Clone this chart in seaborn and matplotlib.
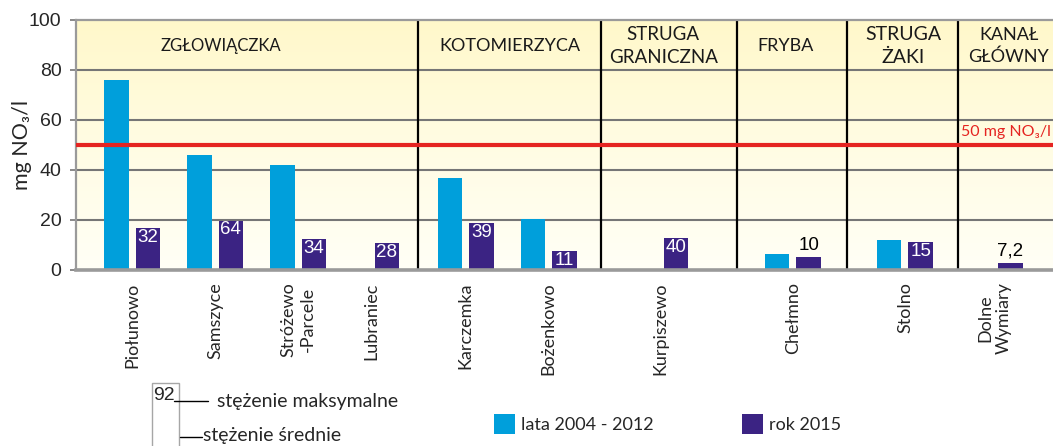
import numpy as np
import pandas as pd
import seaborn as sns
import matplotlib.pyplot as plt
from matplotlib import font_manager
from matplotlib.colors import LinearSegmentedColormap
from matplotlib.patches import Rectangle
from matplotlib.lines import Line2D

# -----------------------------
# Data (mg NO3/l)
# -----------------------------
stations = ["Piołunowo", "Samszyce", "Stróżewo\n-Parcele", "Lubraniec", "Karczemka",
            "Bożenkowo", "Kurpiszewo", "Chełmno", "Stolno", "Dolne\nWymiary"]
mean_2004_2012 = [76, 46, 42, np.nan, 37, 20.5, np.nan, 6.4, 12, np.nan]
mean_2015 = [16.8, 19.8, 12.4, 10.8, 18.8, 7.6, 12.8, 5.2, 11.2, 3.0]
max_2015 = [32, 64, 34, 28, 39, 11, 40, 10, 15, 7.2]
series = ["lata 2004 - 2012", "rok 2015"]
rivers = ["ZGŁOWIĄCZKA", "KOTOMIERZYCA", "STRUGA\nGRANICZNA", "FRYBA", "STRUGA\nŻAKI", "KANAŁ\nGŁÓWNY"]
limit = 50

# layout: station positions on the x axis, river labels and dividers
station_x = [0, 1, 2, 2.88, 4.02, 5.02, 6.36, 7.96, 9.31, 10.39]
river_x = [1.07, 4.55, 6.4, 7.87, 9.29, 10.56]
river_size = [12, 13, 13.5, 13, 14, 13]
divider_x = [3.45, 5.65, 7.29, 8.61, 9.95]

colors = ["#009FDB", "#3B2383"]


def has_font(name):
    try:
        font_manager.findfont(font_manager.FontProperties(family=name), fallback_to_default=False)
        return True
    except ValueError:
        return False


sns.set_style("white")
plt.rcParams['font.family'] = ['Lato', 'DejaVu Sans']
num_font = ['Liberation Sans', 'DejaVu Sans']
if has_font('Liberation Sans Narrow'):
    narrow, narrow_size = ['Liberation Sans Narrow', 'Liberation Sans'], 15
else:
    narrow, narrow_size = num_font, 13.5

W, H = 1053, 446
fig = plt.figure(figsize=(W / 100, H / 100), dpi=100)
ax = fig.add_axes([76 / W, 1 - 270 / H, 990 / W, 250 / H])

df = pd.DataFrame({
    "x": station_x * 2,
    "value": mean_2004_2012 + mean_2015,
    "series": [series[0]] * len(stations) + [series[1]] * len(stations),
}).dropna()

bar_width = 0.76 / np.diff(station_x).min()
sns.barplot(data=df, x="x", y="value", hue="series", hue_order=series, palette=colors,
            native_scale=True, width=bar_width, gap=0.22, saturation=1, errorbar=None,
            linewidth=0, ax=ax, zorder=2)

ax.set_xlim(-0.675, 11.25)
ax.set_ylim(0, 100)

# background gradient
grad = np.linspace(0, 1, 256).reshape(-1, 1)
cmap = LinearSegmentedColormap.from_list("bg", ["#FFFFF6", "#FFFCE3", "#FFF8CA"])
ax.imshow(grad, cmap=cmap, origin="lower", aspect="auto", extent=[-0.675, 11.25, 0, 100], zorder=0)

# grid, dividers, limit line
for y in [20, 40, 60, 80]:
    ax.axhline(y, color="#767676", lw=1.5, zorder=1)
for x in divider_x:
    ax.axvline(x, color="black", lw=1.6, zorder=1)
ax.axhline(limit, color="#E52421", lw=3, zorder=3)
ax.text(9.98, 55.2, "50 mg NO₃/l", color="#E52421", fontsize=11.5, va="center", ha="left", zorder=4)

# river names
for x, name, size in zip(river_x, rivers, river_size):
    ax.text(x, 89.6, name, ha="center", va="center", fontsize=size, linespacing=1.38, color="#1a1a1a")

# max values on 2015 bars
for bar, m in zip(ax.containers[1], max_2015):
    h = bar.get_height()
    cx = bar.get_x() + bar.get_width() / 2
    label = f"{m:g}".replace(".", ",")
    if h > 6:
        ax.text(cx, h - 0.3, label, ha="center", va="top", color="white",
                fontsize=narrow_size, family=narrow, zorder=4)
    else:
        ax.text(cx, h + 1.0, label, ha="center", va="bottom", color="black",
                fontsize=narrow_size, family=narrow, zorder=4)

# axes styling
ax.set_yticks([0, 20, 40, 60, 80, 100])
ax.set_yticklabels([0, 20, 40, 60, 80, 100], family=num_font, fontsize=14)
ax.tick_params(axis="y", length=4.5, width=1.2, color="#767676", pad=6, left=True)
ax.set_xticks(station_x)
ax.set_xticklabels(stations, rotation=90, fontsize=13, va="top", ha="center")
ax.tick_params(axis="x", length=0, pad=9)
ax.set_xlabel("")
ax.set_ylabel("mg NO₃/l", fontsize=15.5)
ax.yaxis.set_label_coords(-0.044, 0.5)
for side in ["left", "top"]:
    ax.spines[side].set_color("#9A9A9A")
    ax.spines[side].set_linewidth(1.6)
ax.spines["bottom"].set_color("#9A9A9A")
ax.spines["bottom"].set_linewidth(2.6)
ax.spines["right"].set_visible(False)

# legend for the two series
sns.move_legend(ax, "center left", bbox_to_anchor=(487 / W, 1 - 424 / H), bbox_transform=fig.transFigure,
                ncol=2, frameon=False, title=None, borderaxespad=0, prop={'family': 'Lato', 'size': 13},
                handlelength=1.17, handleheight=1.39, handletextpad=0.33, columnspacing=4.85)

# legend for the labels (max / mean)
def fx(x):
    return x / W


def fy(y):
    return 1 - y / H


fig.add_artist(Rectangle((fx(152), fy(450)), fx(179) - fx(152), fy(383) - fy(450),
                         transform=fig.transFigure, facecolor="white", edgecolor="#A6A6A6", lw=1))
fig.text(fx(164), fy(395), "92", ha="center", va="center", fontsize=14, family=num_font)
fig.add_artist(Line2D([fx(174), fx(208)], [fy(401), fy(401)], transform=fig.transFigure, color="black", lw=1))
fig.text(fx(217), fy(402), "stężenie maksymalne", ha="left", va="center", fontsize=14)
fig.add_artist(Line2D([fx(180), fx(202)], [fy(437), fy(437)], transform=fig.transFigure, color="black", lw=1))
fig.text(fx(203), fy(436), "stężenie średnie", ha="left", va="center", fontsize=14)

fig.savefig("out.png", dpi=100)
